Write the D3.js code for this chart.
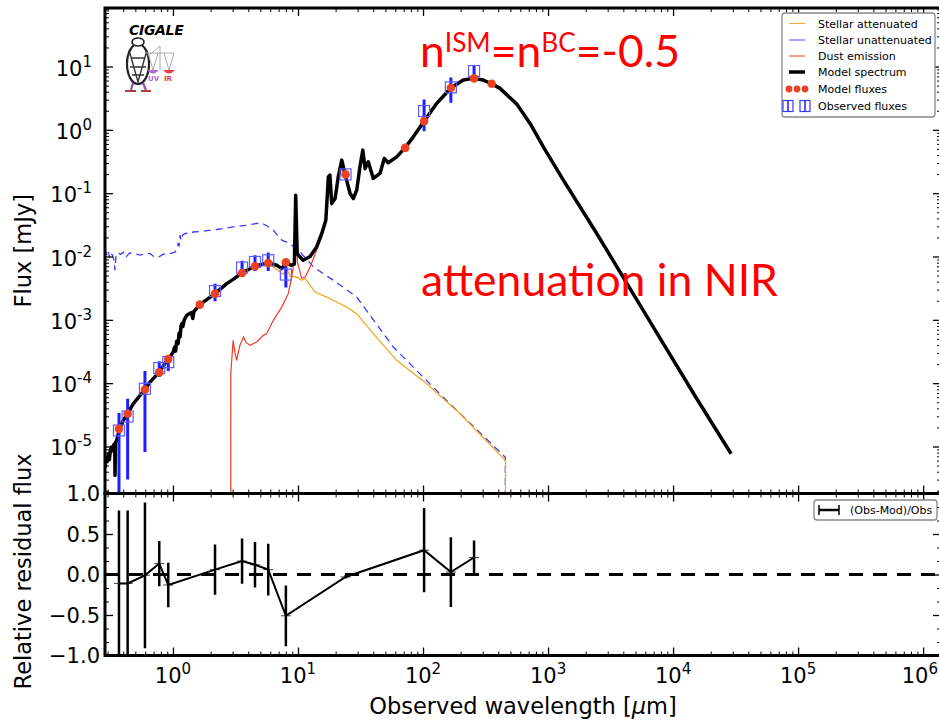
<!DOCTYPE html>
<html>
<head>
<meta charset="utf-8">
<script src="https://d3js.org/d3.v7.min.js"></script>
<style>
body { margin: 0; background: #fff; }
svg { display: block; }
text { font-family: "DejaVu Sans", sans-serif; }
</style>
</head>
<body>
<div class="container"></div>
<script>
var w = 939, h = 724;

// model spectrum (black)
var modelWave = [0.286, 0.292, 0.298, 0.304, 0.310, 0.316, 0.323, 0.330, 0.337, 0.342, 0.344, 0.347, 0.355, 0.372,
  0.400, 0.434, 0.481, 0.545, 0.597, 0.655, 0.773, 0.912, 0.96, 1.005, 1.03, 1.05, 1.07, 1.10, 1.12, 1.14, 1.16,
  1.18, 1.20, 1.23, 1.29, 1.35, 1.41, 1.44, 1.47, 1.64, 2.17, 2.69, 3.05, 3.55, 4.53, 5.78, 6.76, 7.41, 8.0, 8.91,
  9.35, 9.59, 9.85, 10.4, 11.0, 12.5, 14.1, 15.5, 16.7, 17.5, 18.0, 18.6, 19.8, 21.0, 22.4, 23.8, 26.1, 27.7, 29.5,
  31.3, 33.0, 34.4, 36.5, 40.0, 45.3, 49.0, 52.7, 61.6, 71.8, 83.6, 102.4, 128.8, 167.5, 210, 252, 303, 354, 413,
  562, 718, 917, 1326, 2452, 4529, 8356, 15480, 29100];
var modelFlux = [4.7e-6, 6.5e-6, 5.8e-6, 7.7e-6, 6.2e-6, 8.8e-6, 9.8e-6, 8.6e-6, 1.08e-5, 1.1e-5, 3.5e-6, 1.15e-5, 1.25e-5, 1.85e-5,
  2.58e-5, 3.29e-5, 4.73e-5, 6.4e-5, 7.96e-5, 1.04e-4, 1.48e-4, 2.4e-4, 2.7e-4, 3.1e-4, 3.7e-4, 3.2e-4, 4.6e-4, 4.2e-4, 6.2e-4, 5.4e-4, 8.0e-4,
  8.7e-4, 7.8e-4, 1.0e-3, 1.18e-3, 1.25e-3, 1.3e-3, 1.05e-3, 1.35e-3, 1.74e-3, 2.59e-3, 3.73e-3, 4.4e-3, 5.5e-3, 7.09e-3, 7.91e-3, 7.27e-3, 6.44e-3, 7.8e-3, 7.27e-3,
  7.6e-3, 0.093, 1.1e-2, 9.84e-3, 8.73e-3, 1.0e-2, 1.42e-2, 2.31e-2, 3.74e-2, 0.181, 0.193, 0.0687, 0.0824, 0.181, 0.333, 0.198, 0.0989, 0.0824, 0.1115,
  0.261, 0.479, 0.245, 0.313, 0.171, 0.205, 0.354, 0.302, 0.375, 0.52, 0.776, 1.375, 2.62, 4.62, 6.12, 6.5, 6.12, 5.35, 4.52,
  2.55, 1.265, 0.54, 0.161, 0.0231, 3.11e-3, 4.21e-4, 5.68e-5, 7.67e-6];

// stellar unattenuated (blue dashed)
var unattWave = [0.286, 0.292, 0.298, 0.304, 0.312, 0.320, 0.328, 0.336, 0.344, 0.350, 0.362, 0.380, 0.400, 0.420,
  0.450, 0.480, 0.545, 0.60, 0.655, 0.70, 0.76, 0.83, 0.89, 0.97, 1.04, 1.08, 1.10, 1.12, 1.14, 1.16, 1.20, 1.27,
  1.35, 1.45, 1.7, 2.24, 2.6, 3.03, 3.8, 4.67, 5.12, 5.7, 6.35, 7.42, 8.63, 10.4, 13.3, 19.2, 29.5, 57.8, 145, 455, 457];
var unattFlux = [9.8e-3, 1.15e-2, 1.0e-2, 1.17e-2, 9.4e-3, 1.1e-2, 1.05e-2, 9.0e-3, 6.1e-3, 1.05e-2, 1.15e-2, 1.08e-2, 1.17e-2, 9.7e-3,
  1.14e-2, 1.12e-2, 1.05e-2, 1.1e-2, 1.12e-2, 1.0e-2, 9.7e-3, 1.08e-2, 1.11e-2, 1.12e-2, 1.18e-2, 1.3e-2, 1.6e-2, 1.5e-2, 2.17e-2, 1.8e-2, 2.2e-2, 2.33e-2,
  2.25e-2, 2.44e-2, 2.5e-2, 2.67e-2, 2.8e-2, 2.93e-2, 3.1e-2, 3.32e-2, 3.39e-2, 3.0e-2, 2.6e-2, 1.81e-2, 1.6e-2, 1.18e-2, 6.84e-3, 4.21e-3, 2.29e-3, 3.72e-4, 6.01e-5, 6.78e-6, 1e-8];

// stellar attenuated (orange)
var attWave = [0.286, 0.304, 0.323, 0.355, 0.372, 0.434, 0.545, 0.655, 0.773, 0.912, 1.005, 1.10, 1.18, 1.29, 1.64,
  2.17, 2.69, 3.55, 4.53, 5.78, 6.35, 7.18, 7.6, 8.13, 8.63, 9.73, 10.7, 11.4, 12.5, 13.7, 17.0, 20.4, 24.5, 29.5,
  40.0, 61.6, 107, 198, 457, 458];
var attFlux = [4.5e-6, 7.5e-6, 9.5e-6, 1.2e-5, 1.8e-5, 3.2e-5, 6.3e-5, 1.02e-4, 1.45e-4, 2.35e-4, 3.0e-4, 4.6e-4, 8.5e-4, 1.15e-3, 1.7e-3,
  2.55e-3, 3.65e-3, 5.4e-3, 6.9e-3, 7.6e-3, 6.84e-3, 5.7e-3, 5.24e-3, 6.52e-3, 4.88e-3, 4.75e-3, 4.21e-3, 4.53e-3, 3.51e-3, 2.75e-3, 2.29e-3, 1.91e-3, 1.59e-3, 1.25e-3,
  6.05e-4, 2.29e-4, 9.8e-5, 3.29e-5, 6.01e-6, 1e-8];

// dust emission (red)
var dustWave = [2.895, 2.90, 3.03, 3.13, 3.23, 3.43, 3.66, 3.84, 4.13, 4.67, 5.28, 5.62, 6.35, 7.41, 8.36, 8.91,
  9.28, 9.59, 9.9, 10.7, 11.4, 12.5, 14.1, 15.5, 16.7, 17.5, 18.0, 18.6, 19.8, 21.0, 22.4, 23.8, 26.1, 27.7, 29.5,
  31.3, 33.0, 34.4, 36.5, 40.0, 45.3, 49.0, 52.7, 61.6, 71.8, 83.6, 102.4, 128.8, 167.5, 210, 252, 303, 354, 413,
  562, 718, 917, 1326, 2452, 4529, 8356, 15480, 29100];
var dustFlux = [1e-8, 1.41e-4, 4.74e-4, 3.06e-4, 2.29e-4, 3.95e-4, 5.35e-4, 4.41e-4, 3.95e-4, 4.46e-4, 5.69e-4, 6.05e-4, 9.82e-4, 1.59e-3, 2.59e-3, 4.75e-3,
  8.11e-3, 7.75e-2, 8.11e-3, 4.53e-3, 4.75e-3, 6.84e-3, 1.26e-2, 2.04e-2, 3.6e-2, 0.175, 0.187, 0.066, 0.08, 0.176, 0.325, 0.193, 0.096, 0.08, 0.108,
  0.255, 0.47, 0.24, 0.307, 0.168, 0.202, 0.35, 0.298, 0.371, 0.515, 0.77, 1.37, 2.61, 4.61, 6.11, 6.49, 6.11, 5.34, 4.51,
  2.55, 1.265, 0.54, 0.161, 0.0231, 3.11e-3, 4.21e-4, 5.68e-5, 7.67e-6];

// observed fluxes with errors
var obsWave = [0.37, 0.434, 0.597, 0.777, 0.917, 2.17, 3.57, 4.53, 5.78, 8.0, 24.0, 102, 167, 256];
var obsFlux = [1.79e-5, 2.98e-5, 8.17e-5, 1.73e-4, 2.15e-4, 2.85e-3, 6.69e-3, 8.2e-3, 8.73e-3, 5.19e-3, 0.198, 1.98, 4.69, 8.49];
var obsErr = [1.6e-5, 2.68e-5, 7.35e-5, 4.84e-5, 5.9e-5, 8.8e-4, 1.87e-3, 2.3e-3, 2.8e-3, 1.95e-3, 4e-3, 1.03, 2.0, 1.8];

// model fluxes (red dots)
var modWave = [0.37, 0.434, 0.597, 0.777, 0.917, 1.64, 2.17, 3.57, 4.53, 5.78, 8.0, 24.0, 72, 102, 167, 256, 354];
var modFlux = [1.9e-5, 3.29e-5, 7.96e-5, 1.48e-4, 2.4e-4, 1.74e-3, 2.59e-3, 5.5e-3, 7.02e-3, 7.91e-3, 8.11e-3, 0.198, 0.52, 1.375, 4.62, 6.5, 5.35];

// relative residuals (Obs-Mod)/Obs
var resVal = [-0.11, -0.11, -0.01, 0.135, -0.13, 0.06, 0.165, 0.12, 0.06, -0.51, -0.03, 0.30, 0.03, 0.21];
var resErr = [0.90, 0.90, 0.90, 0.28, 0.275, 0.31, 0.28, 0.28, 0.32, 0.375, 0.02, 0.52, 0.43, 0.21];

var xMajor = [1e0, 1e1, 1e2, 1e3, 1e4, 1e5, 1e6];
var xLabels = ["0", "1", "2", "3", "4", "5", "6"];
var yMajor = [1e1, 1e0, 1e-1, 1e-2, 1e-3, 1e-4, 1e-5];
var yLabels = ["1", "0", "-1", "-2", "-3", "-4", "-5"];
var resTicks = [1.0, 0.5, 0.0, -0.5, -1.0];
var resLabels = ["1.0", "0.5", "0.0", "\u22120.5", "\u22121.0"];

function pairs(a, b) { return a.map(function(v, i) { return [v, b[i]]; }); }

var L = 105, R = 941, T = 8, M = 493.5, B = 655.5;

var svg = d3.select(".container").append("svg").attr("width", w).attr("height", h);

var x = d3.scaleLog().domain([0.286, 1.39e6]).range([L, R]);
var y = d3.scaleLog().domain([1.81e-6, 84]).range([M, T]);
var yr = d3.scaleLinear().domain([-1, 1]).range([B, M]);

var defs = svg.append("defs");
defs.append("clipPath").attr("id", "clipTop").append("rect").attr("x", L).attr("y", T).attr("width", R - L).attr("height", M - T);
defs.append("clipPath").attr("id", "clipBot").append("rect").attr("x", L).attr("y", M).attr("width", R - L).attr("height", B - M);

var line = d3.line().x(function(d) { return x(d[0]); }).y(function(d) { return y(Math.max(d[1], 1e-9)); });

var gTop = svg.append("g").attr("clip-path", "url(#clipTop)");

gTop.append("path").datum(pairs(unattWave, unattFlux)).attr("d", line)
  .attr("fill", "none").attr("stroke", "#3a3aff").attr("stroke-width", 1.3).attr("stroke-dasharray", "7,5");
gTop.append("path").datum(pairs(attWave, attFlux)).attr("d", line)
  .attr("fill", "none").attr("stroke", "#f5a623").attr("stroke-width", 1.3);
gTop.append("path").datum(pairs(dustWave, dustFlux)).attr("d", line)
  .attr("fill", "none").attr("stroke", "#f03a25").attr("stroke-width", 1.2);
gTop.append("path").datum(pairs(modelWave, modelFlux)).attr("d", line)
  .attr("fill", "none").attr("stroke", "#000").attr("stroke-width", 3.5).attr("stroke-linejoin", "round");

var obs = pairs(obsWave, obsFlux);
gTop.selectAll("line.err").data(obs).enter().append("line").attr("class", "err")
  .attr("x1", function(d) { return x(d[0]); }).attr("x2", function(d) { return x(d[0]); })
  .attr("y1", function(d, i) { return y(Math.max(d[1] - obsErr[i], 1e-9)); })
  .attr("y2", function(d, i) { return y(d[1] + obsErr[i]); })
  .attr("stroke", "#1e1eff").attr("stroke-width", 3);
gTop.selectAll("rect.obs").data(obs).enter().append("rect").attr("class", "obs")
  .attr("x", function(d) { return x(d[0]) - 5.5; }).attr("y", function(d) { return y(d[1]) - 5.5; })
  .attr("width", 11).attr("height", 11)
  .attr("fill", "none").attr("stroke", "#5c5cff").attr("stroke-width", 1.2);
gTop.selectAll("circle.mod").data(pairs(modWave, modFlux)).enter().append("circle").attr("class", "mod")
  .attr("cx", function(d) { return x(d[0]); }).attr("cy", function(d) { return y(d[1]); })
  .attr("r", 4.3).attr("fill", "#ea4222");

// residual panel
var gBot = svg.append("g").attr("clip-path", "url(#clipBot)");
gBot.append("line").attr("x1", L).attr("x2", R).attr("y1", yr(0)).attr("y2", yr(0))
  .attr("stroke", "#000").attr("stroke-width", 3).attr("stroke-dasharray", "14,10");
var res = pairs(obsWave, resVal);
gBot.selectAll("line.rerr").data(res).enter().append("line").attr("class", "rerr")
  .attr("x1", function(d) { return x(d[0]); }).attr("x2", function(d) { return x(d[0]); })
  .attr("y1", function(d, i) { return yr(d[1] - resErr[i]); })
  .attr("y2", function(d, i) { return yr(d[1] + resErr[i]); })
  .attr("stroke", "#000").attr("stroke-width", 2.5);
gBot.selectAll("line.rmark").data(res).enter().append("line").attr("class", "rmark")
  .attr("x1", function(d) { return x(d[0]) - 5; }).attr("x2", function(d) { return x(d[0]) + 5; })
  .attr("y1", function(d) { return yr(d[1]); }).attr("y2", function(d) { return yr(d[1]); })
  .attr("stroke", "#444").attr("stroke-width", 1);
gBot.append("path").datum(res)
  .attr("d", d3.line().x(function(d) { return x(d[0]); }).y(function(d) { return yr(d[1]); }))
  .attr("fill", "none").attr("stroke", "#000").attr("stroke-width", 2);

// ticks
function isPow10(v) { var l = Math.log10(v); return Math.abs(l - Math.round(l)) < 1e-6; }
var xMinor = x.ticks().filter(function(v) { return !isPow10(v); });
var yMinor = y.ticks().filter(function(v) { return !isPow10(v); });
var resMinor = d3.range(-6, 7).map(function(k) { return k / 6; }).filter(function(v) { return Math.abs(v * 2 - Math.round(v * 2)) > 1e-6; });

function ticks(axis, vals, size, ty, tx, sw) {
  var g = svg.append("g").attr("transform", "translate(" + (tx || 0) + "," + (ty || 0) + ")")
    .call(axis.tickValues(vals).tickSize(size).tickFormat(""));
  g.select(".domain").remove();
  g.selectAll(".tick line").attr("stroke", "#000").attr("stroke-width", sw);
}
// upper panel
ticks(d3.axisTop(x), xMajor, -8, T, 0, 1.3);
ticks(d3.axisTop(x), xMinor, -4, T, 0, 1);
ticks(d3.axisBottom(x), xMajor, -8, M, 0, 1.3);
ticks(d3.axisBottom(x), xMinor, -4, M, 0, 1);
ticks(d3.axisLeft(y), yMajor, -8, 0, L, 1.3);
ticks(d3.axisLeft(y), yMinor, -4, 0, L, 1);
ticks(d3.axisRight(y), yMajor, -8, 0, R, 1.3);
ticks(d3.axisRight(y), yMinor, -4, 0, R, 1);
// lower panel
ticks(d3.axisTop(x), xMajor, -8, M, 0, 1.3);
ticks(d3.axisTop(x), xMinor, -4, M, 0, 1);
ticks(d3.axisBottom(x), xMajor, -8, B, 0, 1.3);
ticks(d3.axisBottom(x), xMinor, -4, B, 0, 1);
ticks(d3.axisLeft(yr), resTicks, -8, 0, L, 1.3);
ticks(d3.axisLeft(yr), resMinor, -4, 0, L, 1);
ticks(d3.axisRight(yr), resTicks, -8, 0, R, 1.3);
ticks(d3.axisRight(yr), resMinor, -4, 0, R, 1);

// frames
svg.append("rect").attr("x", L).attr("y", T).attr("width", R - L).attr("height", M - T)
  .attr("fill", "none").attr("stroke", "#000").attr("stroke-width", 3);
svg.append("rect").attr("x", L).attr("y", M).attr("width", R - L).attr("height", B - M)
  .attr("fill", "none").attr("stroke", "#000").attr("stroke-width", 3);

// tick labels
xMajor.forEach(function(v, i) {
  var last = i === xMajor.length - 1;
  var t = svg.append("text").attr("x", last ? 938 : x(v)).attr("y", 683)
    .attr("text-anchor", last ? "end" : "middle").attr("font-size", 21);
  t.append("tspan").text("10");
  t.append("tspan").attr("dy", -9).attr("font-size", 15).text(xLabels[i]);
});
yMajor.forEach(function(v, i) {
  var t = svg.append("text").attr("x", 92).attr("y", y(v) + 9).attr("text-anchor", "end").attr("font-size", 21);
  t.append("tspan").text("10");
  t.append("tspan").attr("dy", -9).attr("font-size", 15).text(yLabels[i]);
});
resTicks.forEach(function(v, i) {
  svg.append("text").attr("x", 100).attr("y", yr(v) + 7.5).attr("text-anchor", "end").attr("font-size", 21).text(resLabels[i]);
});

// axis titles
svg.append("text").attr("transform", "translate(31," + ((T + M) / 2) + ") rotate(-90)")
  .attr("text-anchor", "middle").attr("font-size", 22.5).text("Flux [mJy]");
svg.append("text").attr("transform", "translate(31," + ((M + B) / 2 - 3) + ") rotate(-90)")
  .attr("text-anchor", "middle").attr("font-size", 22.5).text("Relative residual flux");
var xt = svg.append("text").attr("x", (L + R) / 2).attr("y", 714).attr("text-anchor", "middle").attr("font-size", 22.5);
xt.append("tspan").text("Observed wavelength [");
xt.append("tspan").attr("font-style", "italic").text("\u03bc");
xt.append("tspan").text("m]");

// annotations
var a1 = svg.append("text").attr("x", 420).attr("y", 67).attr("fill", "#ff0000")
  .style("font-family", "Lato, sans-serif").attr("font-size", 44)
  .attr("textLength", 260).attr("lengthAdjust", "spacingAndGlyphs");
a1.append("tspan").text("n");
a1.append("tspan").attr("dy", -15).attr("font-size", 26).text("ISM");
a1.append("tspan").attr("dy", 15).text("=n");
a1.append("tspan").attr("dy", -15).attr("font-size", 26).text("BC");
a1.append("tspan").attr("dy", 15).text("=-0.5");
svg.append("text").attr("x", 421).attr("y", 296).attr("fill", "#ff0000")
  .style("font-family", "Lato, sans-serif").attr("font-size", 44)
  .attr("textLength", 357).attr("lengthAdjust", "spacingAndGlyphs").text("attenuation in NIR");

// legend
var lg = svg.append("g");
lg.append("rect").attr("x", 782).attr("y", 13).attr("width", 153).attr("height", 104).attr("rx", 3)
  .attr("fill", "#fff").attr("stroke", "#888").attr("stroke-width", 1.3);
var legNames = ["Stellar attenuated", "Stellar unattenuated", "Dust emission", "Model spectrum", "Model fluxes", "Observed fluxes"];
var legY = [23.5, 40, 56, 72, 89, 106];
legNames.forEach(function(n, i) {
  lg.append("text").attr("x", 818).attr("y", legY[i] + 4).attr("font-size", 11).text(n);
});
lg.append("line").attr("x1", 789).attr("x2", 805).attr("y1", legY[0]).attr("y2", legY[0]).attr("stroke", "#f5a623").attr("stroke-width", 1);
lg.append("line").attr("x1", 789).attr("x2", 805).attr("y1", legY[1]).attr("y2", legY[1]).attr("stroke", "#8484ff").attr("stroke-width", 1.5);
lg.append("line").attr("x1", 789).attr("x2", 805).attr("y1", legY[2]).attr("y2", legY[2]).attr("stroke", "#f03a25").attr("stroke-width", 1);
lg.append("line").attr("x1", 789).attr("x2", 805).attr("y1", legY[3]).attr("y2", legY[3]).attr("stroke", "#000").attr("stroke-width", 3.5);
[789, 797, 805].forEach(function(cx) {
  lg.append("circle").attr("cx", cx).attr("cy", legY[4]).attr("r", 3.4).attr("fill", "#ea4222");
});
[788, 805].forEach(function(cx) {
  lg.append("rect").attr("x", cx - 5).attr("y", legY[5] - 5.5).attr("width", 10).attr("height", 11)
    .attr("fill", "none").attr("stroke", "#3a3aff").attr("stroke-width", 1.2);
  lg.append("line").attr("x1", cx).attr("x2", cx).attr("y1", legY[5] - 5.5).attr("y2", legY[5] + 5.5)
    .attr("stroke", "#1e1eff").attr("stroke-width", 1.5);
});

var rl = svg.append("g");
rl.append("rect").attr("x", 814).attr("y", 500).attr("width", 123).attr("height", 20).attr("rx", 3)
  .attr("fill", "#fff").attr("stroke", "#888").attr("stroke-width", 1.3);
rl.append("line").attr("x1", 819).attr("x2", 839).attr("y1", 510).attr("y2", 510).attr("stroke", "#000").attr("stroke-width", 2.5);
[819, 839].forEach(function(cx) {
  rl.append("line").attr("x1", cx).attr("x2", cx).attr("y1", 505).attr("y2", 515).attr("stroke", "#000").attr("stroke-width", 1.5);
});
rl.append("text").attr("x", 850).attr("y", 514).attr("font-size", 11).text("(Obs-Mod)/Obs");

// CIGALE logo
var logo = svg.append("g");
logo.append("text").attr("x", 129).attr("y", 35).attr("font-size", 14).attr("font-weight", "bold")
  .attr("font-style", "italic").attr("letter-spacing", -0.3).text("CIGALE");
logo.append("ellipse").attr("cx", 138).attr("cy", 64).attr("rx", 11).attr("ry", 20)
  .attr("fill", "#fff").attr("stroke", "#222").attr("stroke-width", 2.2);
logo.append("ellipse").attr("cx", 138).attr("cy", 42).attr("rx", 6).attr("ry", 4)
  .attr("fill", "#fff").attr("stroke", "#222").attr("stroke-width", 1.6);
logo.append("path").attr("d", "M129,50 L138,82 L147,50 M131,58 L145,58 M130,67 L146,67 M132,75 L144,75")
  .attr("fill", "none").attr("stroke", "#333").attr("stroke-width", 1.4);
logo.append("path").attr("d", "M148,56 L160,46 M160,46 L160,70 M146,53 L174,53 M148,53 L153,70 M158,53 L153,70 M174,53 L169,70 M164,53 L169,70")
  .attr("fill", "none").attr("stroke", "#aaa").attr("stroke-width", 1);
logo.append("path").attr("d", "M147,70 Q153,77 159,70 Z").attr("fill", "#b36bd6");
logo.append("path").attr("d", "M163,70 Q169,77 175,70 Z").attr("fill", "#e0424a");
logo.append("text").attr("x", 148).attr("y", 81).attr("font-size", 7).attr("font-weight", "bold").attr("fill", "#b36bd6").text("UV");
logo.append("text").attr("x", 164).attr("y", 81).attr("font-size", 7).attr("font-weight", "bold").attr("fill", "#e0424a").text("IR");
logo.append("path").attr("d", "M133,83 L131,90 M143,83 L146,90").attr("stroke", "#8a4fb0").attr("stroke-width", 2.2);
logo.append("path").attr("d", "M125,91 L136,91 M141,91 L151,91").attr("stroke", "#b04040").attr("stroke-width", 2.2);
</script>
</body>
</html>
